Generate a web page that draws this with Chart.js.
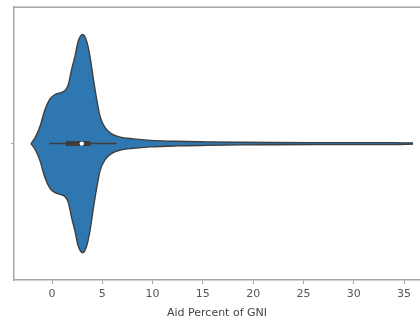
<!DOCTYPE html>
<html>
<head>
<meta charset="utf-8">
<script src="https://cdn.jsdelivr.net/npm/chart.js@4"></script>
<style>
html,body{margin:0;padding:0;background:#fff;overflow:hidden;}
canvas{display:block;}
</style>
</head>
<body>
<canvas id="c" width="420" height="323"></canvas>
<script>
// Violin density (relative, max = 1) sampled along Aid Percent of GNI
const gridX = [-2.1, -1.69, -1.2, -0.7, -0.2, 0.3, 0.8, 1.29, 1.62, 1.95, 2.28, 2.6, 3.06, 3.45, 3.79, 4.12, 4.45, 4.78, 5.28, 5.9, 6.7, 8.1, 9.8, 12.4, 15.4, 18.7, 22, 26, 30, 34, 35.9];
const density = [0, 0.052, 0.156, 0.312, 0.41, 0.45, 0.465, 0.486, 0.54, 0.68, 0.8, 0.936, 1, 0.936, 0.79, 0.587, 0.404, 0.248, 0.147, 0.092, 0.061, 0.043, 0.03, 0.021, 0.016, 0.012, 0.01, 0.009, 0.009, 0.009, 0.005];
// Inner box plot
const whisker = [-0.27, 6.45];
const quartiles = [1.39, 3.85];
const median = 2.96;
const xTicks = [0, 5, 10, 15, 20, 25, 30, 35];
const xLabel = 'Aid Percent of GNI';
const halfWidth = 0.4;

const upper = gridX.map((x, i) => ({x: x, y: density[i] * halfWidth}));
const lower = gridX.map((x, i) => ({x: x, y: -density[i] * halfWidth}));

const frame = {
  id: 'frame',
  afterDraw(chart) {
    const {ctx, chartArea} = chart;
    ctx.save();
    ctx.strokeStyle = '#a6a6a6';
    ctx.lineWidth = 1.5;
    ctx.beginPath();
    ctx.moveTo(chartArea.left - 0.75, chartArea.top);
    ctx.lineTo(chart.width, chartArea.top);
    ctx.stroke();
    ctx.restore();
  }
};

new Chart(document.getElementById('c'), {
  type: 'scatter',
  data: {
    datasets: [
      {data: upper, showLine: true, fill: '+1', backgroundColor: '#2f77b0', borderColor: '#3f3f3f', borderWidth: 1.4, pointRadius: 0, cubicInterpolationMode: 'monotone', order: 5},
      {data: lower, showLine: true, fill: false, borderColor: '#3f3f3f', borderWidth: 1.4, pointRadius: 0, cubicInterpolationMode: 'monotone', order: 4},
      {data: whisker.map(x => ({x: x, y: 0})), showLine: true, borderColor: '#3d3d3d', borderWidth: 1.5, pointRadius: 0, order: 3},
      {data: quartiles.map(x => ({x: x, y: 0})), showLine: true, borderColor: '#3d3d3d', borderWidth: 5, borderCapStyle: 'butt', pointRadius: 0, order: 2},
      {data: [{x: median, y: 0}], pointRadius: 2.2, pointBackgroundColor: '#ffffff', pointBorderWidth: 0, order: 1}
    ]
  },
  options: {
    responsive: false,
    animation: false,
    events: [],
    layout: {autoPadding: false, padding: {top: 7, left: 0, right: 0, bottom: 3}},
    plugins: {legend: {display: false}, tooltip: {enabled: false}},
    scales: {
      x: {
        type: 'linear',
        min: -3.78,
        max: 36.59,
        afterBuildTicks: s => { s.ticks = xTicks.map(v => ({value: v})); },
        afterFit: s => { s.height = 40; s.paddingLeft = 0; s.paddingRight = 0; },
        grid: {drawOnChartArea: false, drawTicks: true, tickLength: 4, color: '#a6a6a6', lineWidth: 1},
        border: {display: true, color: '#a6a6a6', width: 1.5},
        ticks: {color: '#555555', font: {family: 'DejaVu Sans', size: 11}, padding: 4, maxRotation: 0},
        title: {display: true, text: xLabel, color: '#444444', font: {family: 'DejaVu Sans', size: 11}, padding: {top: 0, bottom: 0}}
      },
      y: {
        type: 'linear',
        min: -0.5,
        max: 0.5,
        afterBuildTicks: s => { s.ticks = [{value: 0}]; },
        afterFit: s => { s.width = 14; },
        grid: {drawOnChartArea: false, drawTicks: true, tickLength: 3, color: '#a6a6a6'},
        border: {display: true, color: '#a6a6a6', width: 1.5},
        ticks: {callback: () => '', padding: 0}
      }
    }
  },
  plugins: [frame]
});
</script>
</body>
</html>
